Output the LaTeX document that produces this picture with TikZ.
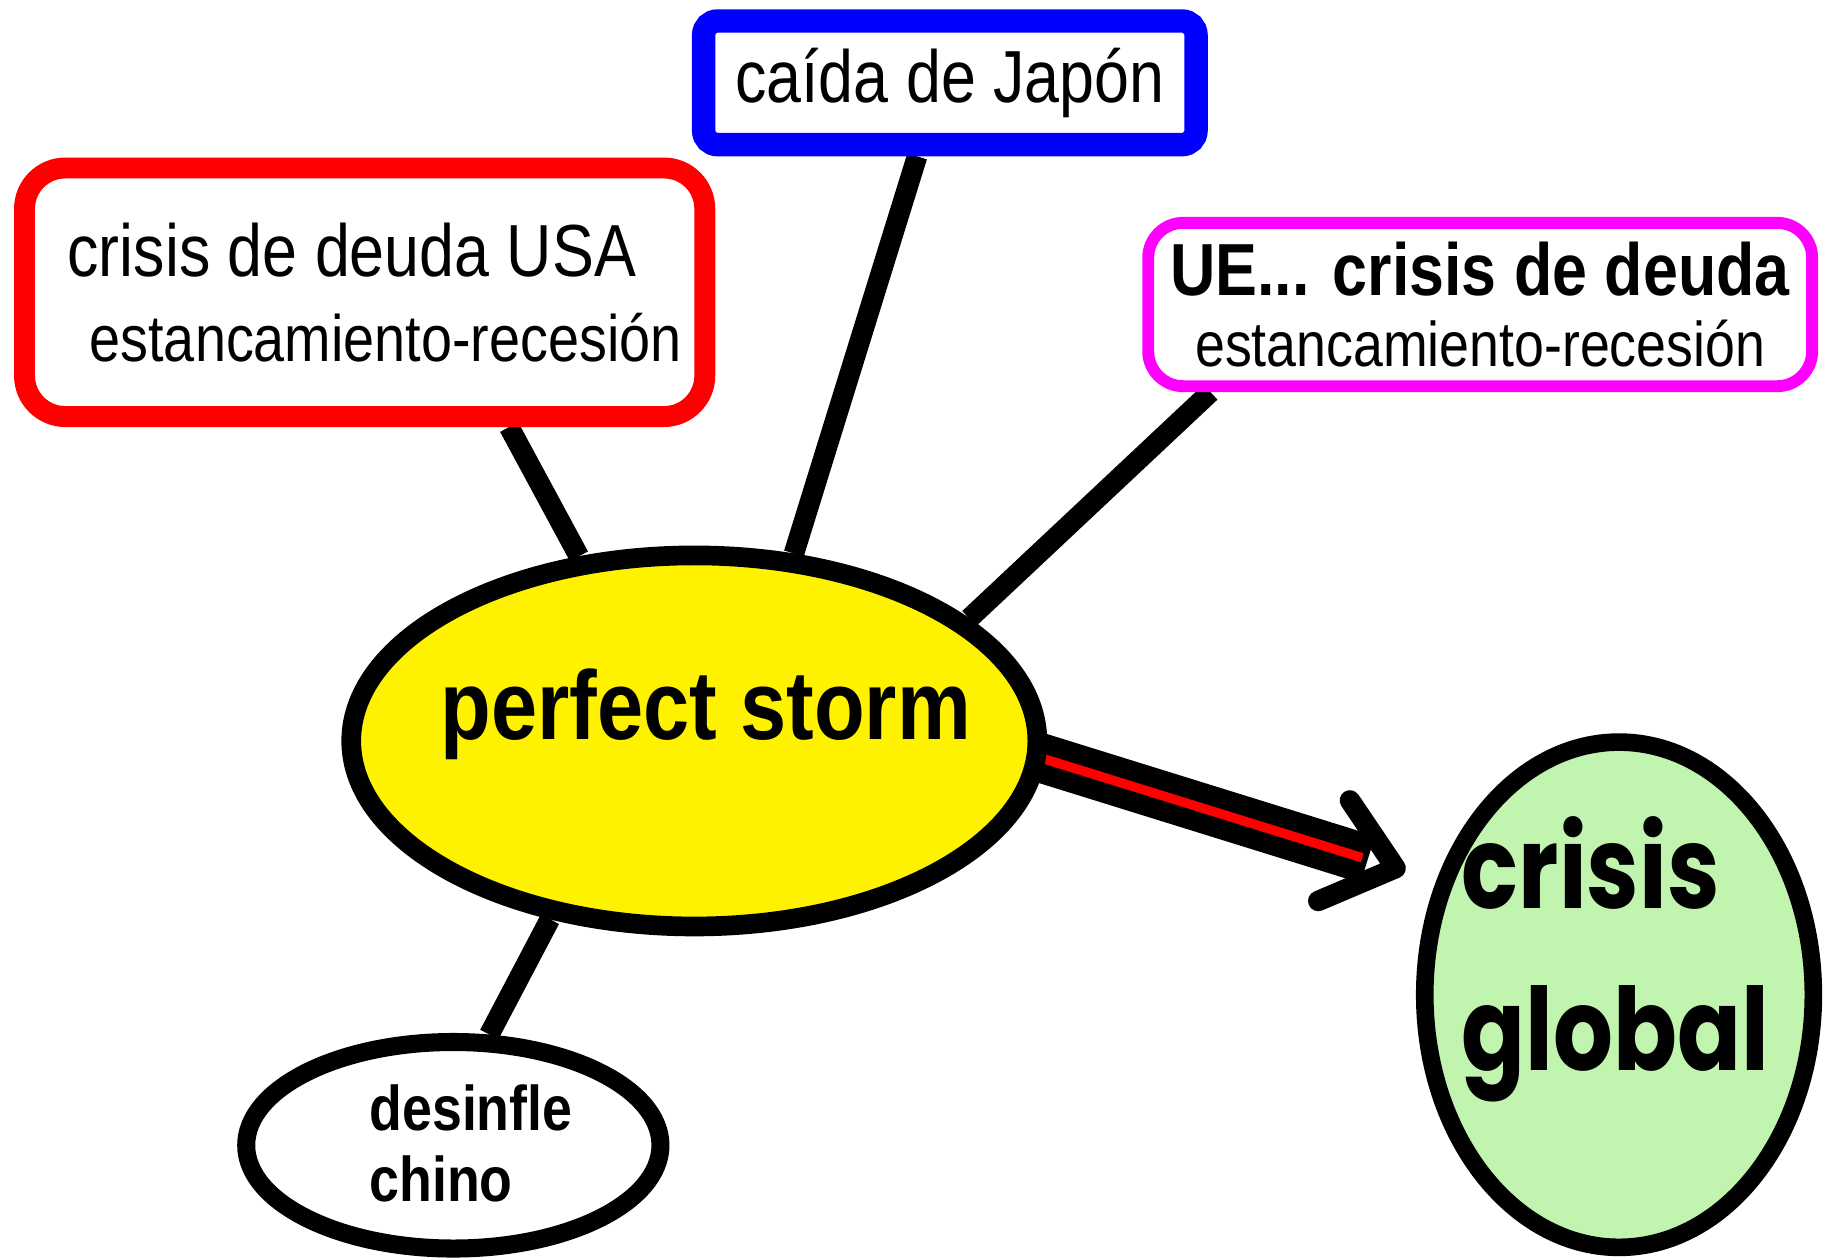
\documentclass[tikz,border=0pt]{standalone}
\usepackage{fontspec}
\setmainfont{Liberation Sans}[FakeStretch=0.85]
\newfontfamily\roundfont{Poppins}[FakeStretch=0.82]
\usetikzlibrary{shapes.geometric,calc,backgrounds}
\definecolor{softgreen}{RGB}{193,245,175}
\definecolor{pinkline}{RGB}{255,0,255}

\begin{document}
\begin{tikzpicture}[
    box/.style={draw, fill=white, rectangle, inner sep=0pt, align=center},
    blob/.style={draw=black, ellipse, inner sep=0pt},
    link/.style={line width=5pt}
]
\useasboundingbox (0cm,0cm) rectangle (15.64cm,10.78cm);

% boxes
    \node[box, draw=red, line width=5.1pt, rounded corners=0.35cm,
      minimum width=5.83cm, minimum height=2.13cm,
      font=\fontsize{18}{20.8}\selectfont] (usa) at (3.125cm,8.275cm)
      {crisis de deuda USA\hspace*{0.22cm}\\{\fontsize{16}{20.8}\selectfont\hspace*{0.36cm}estancamiento-recesión}};
    \node[box, draw=blue, line width=5.7pt, rounded corners=0.12cm,
      minimum width=4.22cm, minimum height=1.06cm,
      font=\fontsize{18}{20.8}\selectfont] (jpn) at (8.14cm,10.07cm)
      {caída de Japón};
    \node[box, draw=pinkline, line width=2.9pt, rounded corners=0.3cm,
      minimum width=5.69cm, minimum height=1.40cm,
      font=\fontsize{18}{17.4}\selectfont] (ue) at (12.685cm,8.17cm)
      {\textbf{UE... crisis de deuda}\\{\fontsize{15.4}{17.4}\selectfont estancamiento-recesión}};

% ellipses
    \node[blob, fill=yellow, line width=4.8pt, minimum width=5.88cm, minimum height=3.18cm]
      (storm) at (5.95cm,4.43cm) {};
    \node[blob, fill=softgreen, line width=4.3pt, minimum width=3.33cm, minimum height=4.33cm]
      (glob) at (13.875cm,2.255cm) {};
    \node[blob, fill=white, line width=4.4pt, minimum width=3.55cm, minimum height=1.77cm]
      (chino) at (3.885cm,0.965cm) {};

    \node[font=\bfseries\fontsize{23.8}{28}\selectfont, anchor=base, inner sep=0pt]
      (stormtxt) at (6.05cm,4.44cm) {perfect storm};
    \node[font=\roundfont\bfseries\fontsize{28}{39.5}\selectfont, align=left,
      anchor=base west, inner sep=0pt] (globtxt) at (12.52cm,1.61cm) {crisis\\global};
    \node[font=\bfseries\fontsize{15.4}{17.4}\selectfont, align=left,
      anchor=base west, inner sep=0pt] (chinotxt) at (3.16cm,0.48cm) {desinfle\\chino};

% links
    \coordinate (tip) at (11.96cm,3.34cm);
    \begin{scope}[on background layer]
    \draw[link] (usa.-43) -- (storm.122);
    \draw[link] (jpn.-114) -- (storm.62);
    \draw[link] (ue.-162.5) -- (storm.24);
    \draw[link] (storm.-129) -- (chino.72);
    \draw[line width=12pt, shorten <=-0.3cm, shorten >=0.25cm] (storm.-3) -- (tip);
    \draw[red, line width=2.3pt, shorten <=-0.3cm, shorten >=0.3cm] (storm.-3) -- (tip);
    \end{scope}
    \draw[line width=5pt, line cap=round, line join=round]
      ($(tip)+(124:0.70cm)$) -- (tip) -- ($(tip)+(203:0.72cm)$);

\end{tikzpicture}
\end{document}
